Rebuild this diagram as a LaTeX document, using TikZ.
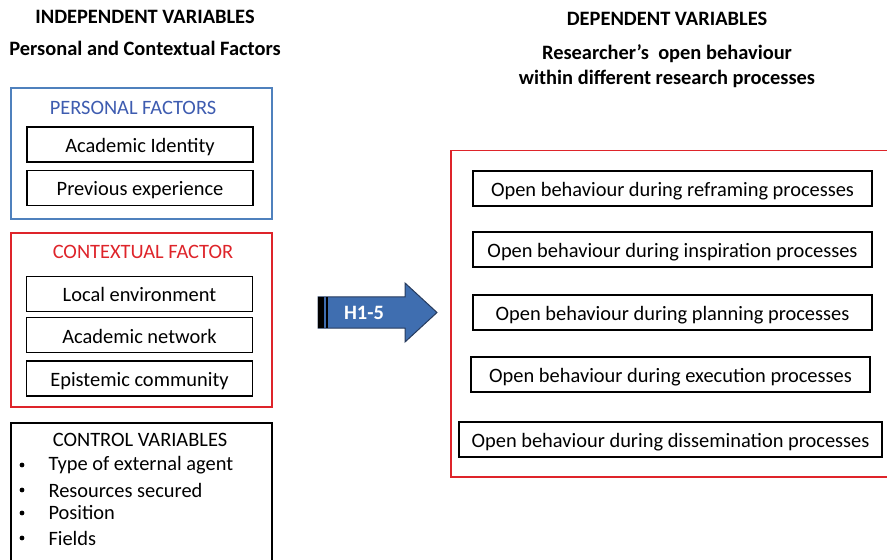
\documentclass[tikz,border=0pt]{standalone}
\usepackage{fontspec}
\setmainfont{Carlito}
\usetikzlibrary{positioning}

\definecolor{pfblue}{RGB}{79,129,189}
\definecolor{pftext}{RGB}{62,92,176}
\definecolor{cfred}{RGB}{222,36,42}
\definecolor{hypblue}{RGB}{63,110,176}
\definecolor{hypedge}{RGB}{38,58,92}

\begin{document}
\begin{tikzpicture}[x=1bp,y=-1bp,
    txt/.style={font=\fontsize{20.5}{25}\selectfont},
    head/.style={font=\fontsize{20.5}{25}\selectfont\bfseries},
    item/.style={draw, rectangle, line width=1.3bp, minimum width=226bp, minimum height=35bp, inner sep=0pt, text height=16bp, text depth=0bp, txt},
    outcome/.style={item, minimum width=399bp},
    frame/.style={draw, rectangle, line width=1.5bp, inner sep=0pt}]
    \useasboundingbox (0,0) rectangle (887,560);

    % Headings
    \node (indep) [head] at (145,17) {INDEPENDENT VARIABLES};
    \node (pcf) [head] at (145,48) {Personal and Contextual Factors};
    \node (dep) [head] at (667,19) {DEPENDENT VARIABLES};
    \node (rob) [head, align=center] at (667,66) {Researcher’s \ open behaviour\\within different research processes};

    % Personal factors
    \node (pframe) [frame, draw=pfblue, minimum width=261bp, minimum height=131bp] at (141.5,153.5) {};
    \node (ptitle) [txt, text=pftext] at (133,108) {PERSONAL FACTORS};
    \node (ident) [item] at (140,144.5) {Academic Identity};
    \node (prev) [item, below=7bp of ident] {Previous experience};

    % Contextual factor
    \node (cframe) [frame, draw=cfred, minimum width=261bp, minimum height=174bp] at (141.5,320) {};
    \node (ctitle) [txt, text=cfred] at (143,252) {CONTEXTUAL FACTOR};
    \node (local) [item] at (139.5,294) {Local environment};
    \node (network) [item, below=5bp of local] {Academic network};
    \node (episteme) [item, below=7bp of network] {Epistemic community};

    % Control variables
    \node (kframe) [frame, minimum width=261bp, minimum height=150bp, anchor=north] at (141.5,422) {};
    \node (ktitle) [txt] at (140,440) {CONTROL VARIABLES};
    \node (k1) [txt, anchor=west] at (45,465) {Type of external agent};
    \node (k2) [txt, anchor=west] at (45,490) {Resources secured};
    \node (k3) [txt, anchor=west] at (45,513) {Position};
    \node (k4) [txt, anchor=west] at (45,538) {Fields};
    \foreach \k in {k1,k2,k3,k4}
        \fill (22,0 |- \k.center) circle (2.4bp);

    % Hypotheses arrow
    \filldraw[fill=hypblue, draw=hypedge, line width=1bp]
        (318,297) -- (405,297) -- (405,283) -- (437,312.5) -- (405,342) -- (405,328) -- (318,328) -- cycle;
    \fill (318,297) rectangle (324,328);
    \draw[line width=1.2bp] (327,297) -- (327,328);
    \node (hyp) [head, text=white] at (364,312.5) {H1-5};

    % Open behaviour outcomes
    \node (dframe) [frame, draw=cfred, minimum width=450bp, minimum height=326bp, anchor=north west] at (450,150) {};
    \node (reframe) [outcome] at (672.5,188.5) {Open behaviour during reframing processes};
    \node (inspire) [outcome] at (672.5,249.5) {Open behaviour during inspiration processes};
    \node (plan) [outcome] at (672.5,312.5) {Open behaviour during planning processes};
    \node (execute) [outcome] at (670.5,374.5) {Open behaviour during execution processes};
    \node (dissem) [outcome, minimum width=423bp] at (670.5,439.5) {Open behaviour during dissemination processes};
\end{tikzpicture}
\end{document}
